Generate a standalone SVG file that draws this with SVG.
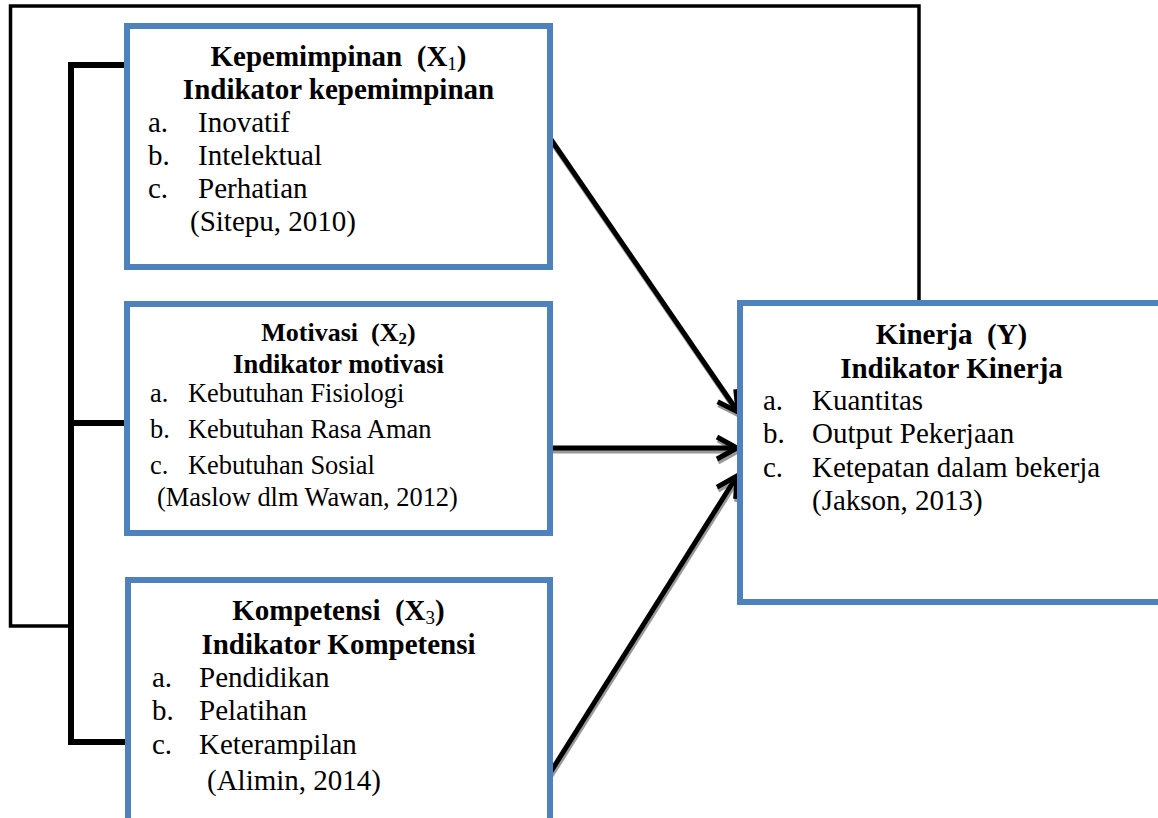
<svg xmlns="http://www.w3.org/2000/svg" width="1158" height="818" viewBox="0 0 1158 818">
<style>
.box{fill:#fff;stroke:#4F81BD;stroke-width:6}
.t{font-family:"Liberation Serif","Times New Roman",serif;fill:#000}
.b{font-weight:bold}
.thin{fill:none;stroke:#000;stroke-width:3.5}
.brk{fill:none;stroke:#000;stroke-width:6}
.arr{fill:none;stroke:#000;stroke-width:5}
.sh{fill:none;stroke:#999;stroke-width:5}
</style>
<defs>
<marker id="ah" markerUnits="userSpaceOnUse" viewBox="-30 -20 40 40" refX="0" refY="0" markerWidth="40" markerHeight="40" orient="auto" overflow="visible">
<path d="M-20,-11 L0,0 L-20,11" fill="none" stroke="#000" stroke-width="5"/>
</marker>
<marker id="ahs" markerUnits="userSpaceOnUse" viewBox="-30 -20 40 40" refX="0" refY="0" markerWidth="40" markerHeight="40" orient="auto" overflow="visible">
<path d="M-20,-11 L0,0 L-20,11" fill="none" stroke="#999" stroke-width="5"/>
</marker>
</defs>
<rect width="1158" height="818" fill="#fff"/>
<g id="connectors">
<polyline class="thin" points="919,303 919,6 10.5,6 10.5,626 71,626"/>
<polyline class="brk" points="127,65 71,65 71,742 127,742"/>
<line class="brk" x1="71" y1="423" x2="127" y2="423"/>
<g transform="translate(1,3)">
<line class="sh" x1="550" y1="138" x2="738" y2="412" marker-end="url(#ahs)"/>
<line class="sh" x1="550" y1="448" x2="737" y2="448" marker-end="url(#ahs)"/>
<line class="sh" x1="550" y1="773" x2="737" y2="476" marker-end="url(#ahs)"/>
</g>
<line class="arr" x1="550" y1="138" x2="738" y2="412" marker-end="url(#ah)"/>
<line class="arr" x1="550" y1="448" x2="737" y2="448" marker-end="url(#ah)"/>
<line class="arr" x1="550" y1="773" x2="737" y2="476" marker-end="url(#ah)"/>
</g>
<g id="x1">
<rect class="box" x="127" y="26" width="423" height="241"/>
<text class="t b" x="338.5" y="66" font-size="29" text-anchor="middle" xml:space="preserve">Kepemimpinan  (X<tspan font-size="19" font-weight="normal" baseline-shift="-4">1</tspan>)</text>
<text class="t b" x="338.5" y="99" font-size="29" text-anchor="middle">Indikator kepemimpinan</text>
<g class="t" font-size="29">
<text x="148" y="132">a.</text><text x="198" y="132">Inovatif</text>
<text x="148" y="165">b.</text><text x="198" y="165">Intelektual</text>
<text x="148" y="198">c.</text><text x="198" y="198">Perhatian</text>
<text x="190" y="231">(Sitepu, 2010)</text>
</g>
</g>
<g id="x2">
<rect class="box" x="127" y="304" width="423" height="229"/>
<text class="t b" x="338.5" y="341" font-size="26" text-anchor="middle" xml:space="preserve">Motivasi  (X<tspan font-size="17" baseline-shift="-3">2</tspan>)</text>
<text class="t b" x="338.5" y="373" font-size="26.5" text-anchor="middle">Indikator motivasi</text>
<g class="t" font-size="26.4">
<text x="150" y="402">a.</text><text x="188" y="402">Kebutuhan Fisiologi</text>
<text x="150" y="438">b.</text><text x="188" y="438">Kebutuhan Rasa Aman</text>
<text x="150" y="474">c.</text><text x="188" y="474">Kebutuhan Sosial</text>
<text x="157" y="506">(Maslow dlm Wawan, 2012)</text>
</g>
</g>
<g id="x3">
<rect class="box" x="128" y="580" width="422" height="260"/>
<text class="t b" x="338.5" y="620" font-size="29" text-anchor="middle" xml:space="preserve">Kompetensi  (X<tspan font-size="19" font-weight="normal" baseline-shift="-4">3</tspan>)</text>
<text class="t b" x="338.5" y="654" font-size="29" text-anchor="middle">Indikator Kompetensi</text>
<g class="t" font-size="29">
<text x="152" y="687">a.</text><text x="199" y="687">Pendidikan</text>
<text x="152" y="720">b.</text><text x="199" y="720">Pelatihan</text>
<text x="152" y="754">c.</text><text x="199" y="754">Keterampilan</text>
<text x="207" y="790">(Alimin, 2014)</text>
</g>
</g>
<g id="y">
<rect class="box" x="740" y="303" width="440" height="299"/>
<text class="t b" x="951.5" y="344" font-size="29" text-anchor="middle" xml:space="preserve">Kinerja  (Y)</text>
<text class="t b" x="951.5" y="378" font-size="29" text-anchor="middle">Indikator Kinerja</text>
<g class="t" font-size="29">
<text x="763" y="410">a.</text><text x="812" y="410">Kuantitas</text>
<text x="763" y="443">b.</text><text x="812" y="443">Output Pekerjaan</text>
<text x="763" y="477">c.</text><text x="812" y="477">Ketepatan dalam bekerja</text>
<text x="812" y="510">(Jakson, 2013)</text>
</g>
</g>
</svg>
